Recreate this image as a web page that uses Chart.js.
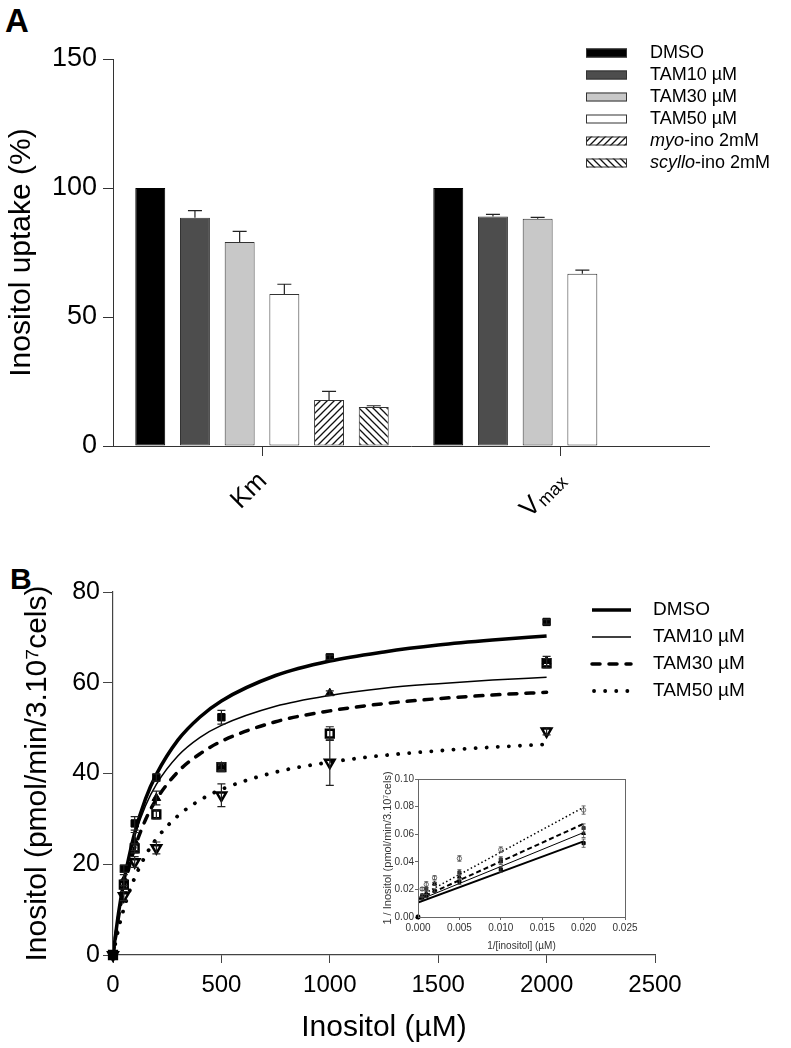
<!DOCTYPE html>
<html>
<head>
<meta charset="utf-8">
<script src="https://cdn.jsdelivr.net/npm/chart.js@4.4.1/dist/chart.umd.min.js"></script>
<style>
  body { margin: 0; background: #fff; width: 791px; height: 1048px; position: relative; overflow: hidden; font-family: "Liberation Sans", Arial, sans-serif; }
  canvas { position: absolute; }
  .tag { position: absolute; font-weight: bold; font-size: 33px; line-height: 33px; color: #000; }
</style>
</head>
<body>
<div class="tag" style="left:5px;top:4px">A</div>
<div class="tag" style="left:10px;top:564px;font-size:30px;line-height:30px">B</div>
<canvas id="panelA" width="791" height="520" style="left:0;top:0"></canvas>
<canvas id="panelB" width="791" height="528" style="left:0;top:520px"></canvas>
<canvas id="inset" width="280" height="195" style="left:360px;top:765px"></canvas>
<script>
// ---- panel A : uptake (% of DMSO) ----
const groups = ['Km', 'Vmax'];
const treatments = ['DMSO', 'TAM10 µM', 'TAM30 µM', 'TAM50 µM', 'myo-ino 2mM', 'scyllo-ino 2mM'];
const italicPart = ['', '', '', '', 'myo', 'scyllo'];
const uptakeDMSO = [100, 100];
const uptakeTAM10 = [88.5, 89.0];
const uptakeTAM30 = [79.1, 88.1];
const uptakeTAM50 = [58.9, 66.8];
const uptakeMyo = [17.8, null];
const uptakeScyllo = [15.1, null];
const errDMSO = [0, 0];
const errTAM10 = [2.7, 0.8];
const errTAM30 = [4.1, 0.5];
const errTAM50 = [3.8, 1.4];
const errMyo = [3.4, 0];
const errScyllo = [0.5, 0];
const uptakeTicks = [0, 50, 100, 150];

// ---- panel B : kinetics ----
const series = ['DMSO', 'TAM10 µM', 'TAM30 µM', 'TAM50 µM'];
const conc = [0, 50, 100, 200, 500, 1000, 2000];
const rateDMSO = [0, 19, 29, 39.1, 52.4, 65.6, 73.4];
const rateTAM10 = [0, 16.5, 25, 34.6, 41.5, 57.7, 64.8];
const rateTAM30 = [0, 15.5, 23.5, 31, 41.4, 48.8, 64.3];
const rateTAM50 = [0, 13, 20.5, 23.6, 35.2, 42.4, 49.3];
const sdDMSO = [0, 0.8, 1.5, 0.8, 1.5, 0.5, 0.5];
const sdTAM10 = [0, 1.2, 2, 1.5, 0.8, 0.5, 1];
const sdTAM30 = [0, 1, 1, 1, 1, 1.5, 1];
const sdTAM50 = [0, 1, 1.2, 1.3, 2.5, 5, 0.8];
// fitted curves
const fitConc = [0, 25, 50, 75, 100, 150, 200, 300, 400, 500, 750, 1000, 1250, 1500, 1750, 2000];
const fitDMSO = [0, 9.1, 16.2, 21.9, 26.9, 34.4, 39.8, 47.4, 52.4, 56.0, 61.6, 64.8, 66.8, 68.3, 69.4, 70.3];
const fitTAM10 = [0, 9.4, 16.4, 21.9, 26.3, 32.9, 37.6, 43.9, 47.9, 50.6, 54.8, 57.2, 58.8, 59.8, 60.6, 61.2];
const fitTAM30 = [0, 8.2, 14.6, 19.5, 23.6, 29.8, 34.3, 40.4, 44.3, 47.1, 51.4, 53.8, 55.4, 56.5, 57.3, 57.9];
const fitTAM50 = [0, 5.7, 10.2, 13.9, 17.0, 21.9, 25.6, 30.7, 34.1, 36.5, 40.3, 42.5, 44.0, 45.0, 45.8, 46.4];

// ---- inset : double reciprocal ----
const invConc = [0, 0.0005, 0.001, 0.002, 0.005, 0.01, 0.02];
const invDMSO = [0, 0.0136, 0.0152, 0.0191, 0.0256, 0.0345, 0.0535];
const invTAM10 = [0, 0.0154, 0.0173, 0.0241, 0.029, 0.040, 0.0606];
const invTAM30 = [0, 0.0156, 0.0205, 0.0241, 0.0323, 0.0417, 0.0645];
const invTAM50 = [0, 0.0203, 0.0236, 0.0284, 0.0424, 0.0488, 0.0775];
const invSdTAM50 = [0, 0.001, 0.002, 0.0015, 0.002, 0.002, 0.003];
const invSdDMSO = [0, 0.001, 0.001, 0.001, 0.002, 0.002, 0.003];
const invLineX = [0, 0.02];
const invLineDMSO = [0.0105, 0.0548];
const invLineTAM10 = [0.012, 0.0612];
const invLineTAM30 = [0.013, 0.0675];
const invLineTAM50 = [0.0145, 0.0795];

Chart.defaults.font.family = '"Liberation Sans", Arial, sans-serif';
Chart.defaults.color = '#000';
Chart.defaults.animation = false;

function hatch(dir) {
  const c = document.createElement('canvas');
  c.width = c.height = 7;
  const g = c.getContext('2d');
  g.fillStyle = '#fff';
  g.fillRect(0, 0, 7, 7);
  g.strokeStyle = '#111';
  g.lineWidth = 1.3;
  g.beginPath();
  if (dir > 0) {
    g.moveTo(-1, 8); g.lineTo(8, -1);
    g.moveTo(-1, 1); g.lineTo(1, -1);
    g.moveTo(6, 8); g.lineTo(8, 6);
  } else {
    g.moveTo(-1, -1); g.lineTo(8, 8);
    g.moveTo(-1, 6); g.lineTo(1, 8);
    g.moveTo(6, -1); g.lineTo(8, 1);
  }
  g.stroke();
  return g.createPattern(c, 'repeat');
}

const val = (d) => (d && typeof d === 'object' ? d.y : d);

const errorBars = {
  id: 'errorBars',
  afterDatasetsDraw(chart) {
    const { ctx } = chart;
    chart.data.datasets.forEach((ds, di) => {
      if (!ds.errs) return;
      const meta = chart.getDatasetMeta(di);
      const yScale = chart.scales[meta.yAxisID];
      ctx.save();
      ctx.strokeStyle = ds.errColor || '#222';
      ctx.lineWidth = ds.errWidth || 1.2;
      meta.data.forEach((el, i) => {
        const e = ds.errs[i];
        const v = val(ds.data[i]);
        if (!e || v == null) return;
        const top = yScale.getPixelForValue(v + e);
        const bottom = ds.errBoth ? yScale.getPixelForValue(v - e) : el.y;
        const cap = ds.errCap || 7;
        ctx.beginPath();
        ctx.moveTo(el.x, bottom); ctx.lineTo(el.x, top);
        ctx.moveTo(el.x - cap, top); ctx.lineTo(el.x + cap, top);
        if (ds.errBoth) { ctx.moveTo(el.x - cap, bottom); ctx.lineTo(el.x + cap, bottom); }
        ctx.stroke();
      });
      ctx.restore();
    });
  },
};

// ---------- panel A ----------
const fills = ['#000000', '#4d4d4d', '#c8c8c8', '#ffffff', hatch(1), hatch(-1)];
const uptake = [uptakeDMSO, uptakeTAM10, uptakeTAM30, uptakeTAM50, uptakeMyo, uptakeScyllo];
const uptakeErr = [errDMSO, errTAM10, errTAM30, errTAM50, errMyo, errScyllo];

const legendA = {
  id: 'legendA',
  afterDraw(chart) {
    const { ctx } = chart;
    ctx.save();
    chart.data.datasets.forEach((ds, i) => {
      const y = 53 + i * 22;
      ctx.fillStyle = ds.backgroundColor;
      ctx.fillRect(586, y - 4.5, 41, 9);
      ctx.strokeStyle = '#333';
      ctx.lineWidth = 1;
      ctx.strokeRect(586.5, y - 4, 40, 8);
      ctx.fillStyle = '#000';
      ctx.textBaseline = 'middle';
      ctx.textAlign = 'left';
      let x = 650;
      const it = italicPart[i];
      if (it) {
        ctx.font = 'italic 18px "Liberation Sans", Arial, sans-serif';
        ctx.fillText(it, x, y);
        x += ctx.measureText(it).width;
      }
      ctx.font = '18px "Liberation Sans", Arial, sans-serif';
      ctx.fillText(ds.label.slice(it.length), x, y);
    });
    ctx.restore();
  },
};

const groupLabels = {
  id: 'groupLabels',
  afterDraw(chart) {
    const { ctx } = chart;
    const xs = chart.scales.x;
    ctx.save();
    ctx.fillStyle = '#000';
    ctx.textBaseline = 'middle';
    groups.forEach((g, i) => {
      const x = xs.getPixelForValue(i);
      ctx.save();
      ctx.translate(x + 1, chart.chartArea.bottom + 31);
      ctx.rotate(-Math.PI / 4);
      const big = '26px "Liberation Sans", Arial, sans-serif';
      const small = '18px "Liberation Sans", Arial, sans-serif';
      const head = g.charAt(0);
      const tail = g.slice(1);
      const sub = g === 'Vmax';
      ctx.font = big;
      const w1 = ctx.measureText(sub ? head : g).width;
      ctx.font = small;
      const w2 = sub ? ctx.measureText(tail).width : 0;
      ctx.textAlign = 'left';
      ctx.font = big;
      ctx.fillText(sub ? head : g, -(w1 + w2), 0);
      if (sub) {
        ctx.font = small;
        ctx.fillText(tail, -w2 + 1, 5);
      }
      ctx.restore();
    });
    ctx.restore();
  },
};

new Chart(document.getElementById('panelA'), {
  type: 'bar',
  data: {
    labels: groups,
    datasets: treatments.map((name, i) => ({
      label: name,
      data: uptake[i],
      errs: uptakeErr[i],
      errCap: 7,
      backgroundColor: fills[i],
      borderColor: i === 0 ? '#000' : '#333',
      borderWidth: 1,
      borderSkipped: false,
      categoryPercentage: 0.9,
      barPercentage: 0.67,
    })),
  },
  options: {
    responsive: false,
    layout: { padding: { left: 0, top: 59, right: 82, bottom: 0 } },
    plugins: { legend: { display: false }, tooltip: { enabled: false } },
    scales: {
      x: {
        offset: true,
        grid: { display: true, drawOnChartArea: false, tickLength: 10, offset: false, color: '#333' },
        border: { color: '#333', width: 1 },
        ticks: { display: false },
        afterFit(s) { s.height = 74; },
      },
      y: {
        min: 0,
        max: 150,
        afterBuildTicks(s) { s.ticks = uptakeTicks.map((v) => ({ value: v })); },
        ticks: { font: { size: 27 }, padding: 6, color: '#000' },
        grid: { drawOnChartArea: false, tickLength: 10, color: '#333' },
        border: { color: '#333', width: 1 },
        title: { display: true, text: 'Inositol uptake (%)', font: { size: 30 }, padding: { top: 4, bottom: 0 }, color: '#000' },
        afterFit(s) { s.width = 113; },
      },
    },
  },
  plugins: [errorBars, legendA, groupLabels],
});

// ---------- panel B ----------
const rates = [rateDMSO, rateTAM10, rateTAM30, rateTAM50];
const sds = [sdDMSO, sdTAM10, sdTAM30, sdTAM50];
const fits = [fitDMSO, fitTAM10, fitTAM30, fitTAM50];
const lineStyles = [
  { borderWidth: 3.5, borderDash: [], borderCapStyle: 'butt' },
  { borderWidth: 1.5, borderDash: [], borderCapStyle: 'butt' },
  { borderWidth: 3.5, borderDash: [8, 9], borderCapStyle: 'round' },
  { borderWidth: 3.8, borderDash: [0.1, 11], borderCapStyle: 'round' },
];
const markers = [
  { pointStyle: 'rect', pointRadius: 5.2, pointBackgroundColor: '#000', pointBorderColor: '#000', pointBorderWidth: 1 },
  { pointStyle: 'triangle', pointRadius: 5, pointBackgroundColor: '#000', pointBorderColor: '#000', pointBorderWidth: 1 },
  { pointStyle: 'rect', pointRadius: 5.5, pointBackgroundColor: '#fff', pointBorderColor: '#000', pointBorderWidth: 2.5 },
  { pointStyle: 'triangle', pointRotation: 180, pointRadius: 5.5, pointBackgroundColor: '#fff', pointBorderColor: '#000', pointBorderWidth: 2.5 },
];

const legendB = {
  id: 'legendB',
  afterDraw(chart) {
    const { ctx } = chart;
    ctx.save();
    series.forEach((name, i) => {
      const st = lineStyles[i];
      const y = 90 + i * 27;
      ctx.strokeStyle = '#000';
      ctx.lineWidth = st.borderWidth;
      ctx.lineCap = st.borderCapStyle;
      ctx.setLineDash(st.borderDash);
      ctx.beginPath();
      ctx.moveTo(592 + (i === 3 ? 2 : 0), y);
      ctx.lineTo(631, y);
      ctx.stroke();
      ctx.setLineDash([]);
      ctx.fillStyle = '#000';
      ctx.font = '19px "Liberation Sans", Arial, sans-serif';
      ctx.textBaseline = 'middle';
      ctx.fillText(name, 653, y);
    });
    ctx.restore();
  },
};

const curveSets = fits.map((f, i) => ({
  label: series[i] + ' fit',
  data: fitConc.map((x, k) => ({ x, y: f[k] })),
  showLine: true,
  pointRadius: 0,
  borderColor: '#000',
  cubicInterpolationMode: 'monotone',
  ...lineStyles[i],
}));
const pointSets = rates.map((r, i) => ({
  label: series[i],
  data: conc.map((x, k) => ({ x, y: r[k] })),
  showLine: false,
  errs: sds[i],
  errBoth: true,
  errCap: 4,
  errWidth: 1.2,
  clip: false,
  ...markers[i],
}));

new Chart(document.getElementById('panelB'), {
  type: 'scatter',
  data: { datasets: [...curveSets, ...pointSets] },
  options: {
    responsive: false,
    layout: { padding: { left: 0, top: 72, right: 136, bottom: 0 } },
    plugins: { legend: { display: false }, tooltip: { enabled: false } },
    scales: {
      x: {
        min: 0,
        max: 2500,
        ticks: { stepSize: 500, font: { size: 24 }, padding: 8, color: '#000', callback: (v) => String(v) },
        grid: { drawOnChartArea: false, tickLength: 8, color: '#444' },
        border: { color: '#444', width: 1.2 },
        title: { display: true, text: 'Inositol (µM)', font: { size: 30 }, padding: { top: 0, bottom: 2 }, color: '#000' },
        afterFit(s) { s.height = 93; },
      },
      y: {
        min: 0,
        max: 80,
        ticks: { stepSize: 20, font: { size: 25 }, padding: 3, color: '#000' },
        grid: { drawOnChartArea: false, tickLength: 10, color: '#444' },
        border: { color: '#444', width: 1.2 },
        title: { display: true, text: 'Inositol (pmol/min/3.10⁷cels)', font: { size: 30 }, padding: { top: 20, bottom: 0 }, color: '#000' },
        afterFit(s) { s.width = 113; },
      },
    },
  },
  plugins: [errorBars, legendB],
});

// ---------- inset ----------
const invSets = [invDMSO, invTAM10, invTAM30, invTAM50];
const invLines = [invLineDMSO, invLineTAM10, invLineTAM30, invLineTAM50];
const invSds = [invSdDMSO, invSdDMSO, invSdDMSO, invSdTAM50];
const insetLineStyles = [
  { borderWidth: 2, borderDash: [] },
  { borderWidth: 1, borderDash: [] },
  { borderWidth: 2, borderDash: [5, 3] },
  { borderWidth: 1.5, borderDash: [1.5, 2.5] },
];
const insetMarkers = [
  { pointStyle: 'rect', pointRadius: 2.2, pointBackgroundColor: '#000', pointBorderColor: '#000' },
  { pointStyle: 'triangle', pointRadius: 2.2, pointBackgroundColor: '#000', pointBorderColor: '#000' },
  { pointStyle: 'rect', pointRadius: 2.2, pointBackgroundColor: '#333', pointBorderColor: '#333' },
  { pointStyle: 'circle', pointRadius: 2.2, pointBackgroundColor: '#fff', pointBorderColor: '#555', pointBorderWidth: 0.8 },
];

const insetFrame = {
  id: 'insetFrame',
  beforeDraw(chart) {
    const { ctx, chartArea: a } = chart;
    ctx.save();
    ctx.fillStyle = '#fff';
    ctx.fillRect(a.left, a.top, a.right - a.left, a.bottom - a.top);
    ctx.restore();
  },
  afterDraw(chart) {
    const { ctx, chartArea: a } = chart;
    ctx.save();
    ctx.strokeStyle = '#666';
    ctx.lineWidth = 1;
    ctx.strokeRect(a.left + 0.5, a.top + 0.5, a.right - a.left, a.bottom - a.top);
    ctx.restore();
  },
};

new Chart(document.getElementById('inset'), {
  type: 'scatter',
  data: {
    datasets: [
      ...invLines.map((l, i) => ({
        label: series[i] + ' line',
        data: invLineX.map((x, k) => ({ x, y: l[k] })),
        showLine: true,
        pointRadius: 0,
        borderColor: '#000',
        ...insetLineStyles[i],
      })),
      ...invSets.map((s, i) => ({
        label: series[i],
        data: invConc.map((x, k) => ({ x, y: s[k] })),
        showLine: false,
        errs: invSds[i],
        errBoth: true,
        errCap: 2,
        errWidth: 0.8,
        errColor: '#444',
        clip: false,
        ...insetMarkers[i],
      })),
    ],
  },
  options: {
    responsive: false,
    layout: { padding: { left: 0, top: 14, right: 15, bottom: 0 } },
    plugins: { legend: { display: false }, tooltip: { enabled: false } },
    scales: {
      x: {
        min: 0,
        max: 0.025,
        ticks: { stepSize: 0.005, font: { size: 10 }, padding: 2, color: '#333', callback: (v) => Number(v).toFixed(3) },
        grid: { drawOnChartArea: false, tickLength: 3, color: '#666' },
        border: { color: '#666' },
        title: { display: true, text: '1/[inositol] (µM)', font: { size: 10 }, padding: { top: 0, bottom: 8 }, color: '#333' },
        afterFit(s) { s.height = 43; },
      },
      y: {
        min: 0,
        max: 0.1,
        ticks: { stepSize: 0.02, font: { size: 10 }, padding: 1, color: '#333', callback: (v) => Number(v).toFixed(2) },
        grid: { drawOnChartArea: false, tickLength: 3, color: '#666' },
        border: { color: '#666' },
        title: { display: true, text: '1 / Inositol (pmol/min/3.10⁷cels)', font: { size: 11 }, padding: { top: 21, bottom: 0 }, color: '#333' },
        afterFit(s) { s.width = 58; },
      },
    },
  },
  plugins: [insetFrame, errorBars],
});
</script>
</body>
</html>
